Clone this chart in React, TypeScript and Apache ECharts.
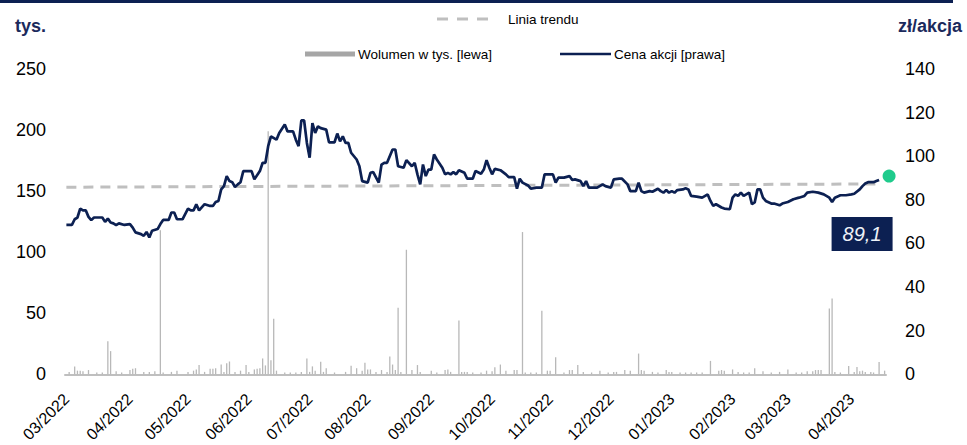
import React, { useEffect, useRef } from "react";
import * as echarts from "echarts";

const NAVY = "#0c2052";
const FONT = "'Liberation Sans', Arial, Helvetica, sans-serif";

// trading days (categories)
const startDate = "2022-03-01";
const endDate = "2023-04-19";
const dates: string[] = [];
{
  const d = new Date(startDate + "T00:00:00Z");
  const end = new Date(endDate + "T00:00:00Z");
  while (d <= end) {
    const wd = d.getUTCDay();
    if (wd !== 0 && wd !== 6) dates.push(d.toISOString().slice(0, 10));
    d.setUTCDate(d.getUTCDate() + 1);
  }
}

// Share price [day index, zł]
const price: [number, number][] = [
  [0, 68.5], [2, 68.5], [3, 71.1], [4, 71.9], [5, 76.0], [6, 75.2], [7, 75.2], [8, 72.2], [9, 70.7], [10, 71.9],
  [13, 71.9], [14, 69.9], [15, 71.4], [16, 69.6], [17, 69.2], [18, 68.4], [19, 69.2], [21, 68.5], [23, 68.9], [24, 67.3],
  [25, 65.1], [27, 64.3], [28, 63.5], [29, 65.3], [30, 62.8], [31, 65.8], [33, 66.6], [34, 68.9], [35, 70.8], [37, 70.8],
  [38, 74.2], [39, 74.2], [40, 71.1], [42, 71.1], [44, 76.0], [45, 75.2], [46, 75.2], [47, 78.0], [48, 75.2], [50, 78.0],
  [52, 77.2], [53, 77.2], [54, 79.0], [55, 79.5], [56, 84.8], [57, 86.3], [58, 90.9], [59, 88.6], [60, 88.1], [61, 85.9],
  [62, 87.1], [63, 88.1], [64, 93.2], [67, 93.2], [68, 89.4], [70, 93.2], [71, 97.0], [72, 97.0], [73, 104.6], [74, 109.1],
  [76, 107.6], [77, 110.7], [79, 114.5], [80, 111.4], [82, 111.4], [83, 107.6], [84, 104.6], [85, 116.4], [86, 116.4], [87, 106.1],
  [88, 99.3], [89, 115.2], [90, 110.7], [91, 113.7], [92, 112.9], [94, 112.2], [95, 106.4], [97, 106.4], [98, 110.4], [99, 106.8],
  [100, 109.1], [101, 106.1], [102, 106.1], [103, 101.6], [105, 98.5], [106, 95.4], [107, 88.6], [109, 87.9], [110, 92.4], [111, 92.7],
  [113, 87.9], [114, 96.2], [115, 97.0], [116, 97.0], [118, 103.1], [119, 103.1], [120, 95.4], [122, 94.7], [123, 98.2], [125, 95.4],
  [126, 97.0], [127, 91.7], [128, 87.1], [129, 96.2], [130, 90.9], [131, 93.9], [132, 93.9], [133, 100.8], [134, 98.5], [136, 94.7],
  [137, 91.7], [138, 92.4], [139, 91.7], [140, 92.7], [141, 91.7], [142, 93.6], [144, 92.4], [145, 89.7], [147, 89.7], [148, 93.2],
  [150, 92.0], [151, 93.9], [152, 98.2], [153, 94.7], [154, 91.7], [155, 94.2], [157, 93.6], [159, 91.7], [160, 90.4], [162, 90.4],
  [163, 85.1], [164, 89.7], [165, 87.9], [167, 86.6], [168, 85.1], [170, 85.6], [172, 85.6], [173, 91.7], [176, 91.7], [177, 87.9],
  [178, 90.2], [180, 90.2], [182, 90.9], [183, 89.1], [184, 89.4], [186, 88.6], [187, 86.3], [188, 88.6], [189, 85.6], [192, 85.6],
  [194, 87.1], [195, 86.3], [197, 85.6], [198, 89.4], [200, 89.7], [201, 89.7], [203, 87.1], [204, 84.0], [206, 84.0], [207, 87.9],
  [208, 84.0], [209, 83.3], [211, 84.0], [212, 83.7], [214, 85.1], [215, 84.0], [216, 83.3], [217, 84.5], [218, 83.3], [219, 84.0],
  [220, 83.3], [221, 84.5], [223, 84.8], [224, 85.3], [225, 84.8], [226, 81.8], [228, 81.5], [230, 81.0], [232, 82.5], [233, 79.5],
  [234, 77.2], [235, 78.0], [237, 76.5], [238, 76.0], [240, 75.7], [241, 81.0], [242, 82.5], [243, 81.8], [244, 83.3], [245, 81.8],
  [247, 83.3], [248, 78.0], [249, 78.8], [250, 84.8], [251, 84.8], [252, 81.0], [253, 79.5], [255, 78.3], [256, 78.3], [258, 77.5],
  [259, 78.3], [261, 79.0], [263, 80.3], [265, 81.0], [267, 81.8], [268, 83.3], [270, 83.7], [272, 83.3], [274, 82.5], [276, 81.0],
  [277, 79.0], [278, 81.0], [280, 82.1], [282, 82.1], [284, 82.5], [285, 82.8], [287, 84.8], [288, 86.3], [289, 87.5], [290, 88.1],
  [292, 88.1], [293, 88.6], [294, 89.1],
];

// Volume, thousands [day index, tys.]
const volume: [number, number][] = [
  [1, 2], [3, 6.5], [4, 3], [5, 3], [6, 2.5], [8, 3.5], [11, 1.5], [13, 1.5], [15, 27], [16, 19],
  [18, 2.5], [20, 1.5], [23, 3.5], [24, 4.5], [25, 5], [28, 2], [30, 2], [32, 2.5], [34, 118], [35, 1.5],
  [38, 2], [40, 3], [44, 2], [46, 3], [47, 4], [48, 7.6], [50, 2], [52, 4.5], [53, 4.5], [54, 5],
  [56, 8], [57, 2], [58, 9], [59, 10.5], [61, 2], [63, 3], [65, 7.6], [66, 2], [68, 4], [69, 4.5],
  [70, 5], [71, 13], [72, 7.3], [73, 199], [74, 11.6], [75, 45.5], [76, 3], [79, 1.5], [81, 1.5], [83, 1.5],
  [85, 2], [87, 13], [88, 2], [89, 6.5], [90, 3], [92, 10.3], [93, 2], [94, 5], [97, 1.5], [101, 2],
  [103, 7], [105, 5], [107, 3], [108, 9.5], [109, 4], [110, 4], [112, 2], [114, 3.5], [116, 2], [117, 14.6],
  [118, 8], [119, 3.5], [120, 54.5], [121, 2], [123, 102], [125, 3.5], [127, 7.6], [128, 2], [132, 3], [134, 1.5],
  [137, 3.5], [138, 4], [139, 2], [142, 44], [143, 2], [144, 2], [145, 2], [147, 1.5], [150, 1.5], [152, 3],
  [154, 2.5], [155, 5.7], [157, 8], [159, 3], [162, 3.5], [163, 3.5], [165, 116.5], [166, 1.5], [168, 1.5], [170, 1.5],
  [172, 52], [174, 3], [175, 3], [177, 14], [180, 1.5], [182, 3.5], [183, 3.5], [185, 7.6], [187, 2], [190, 1.5],
  [193, 3], [196, 1.5], [198, 2], [199, 2], [202, 3.5], [204, 3], [207, 17], [208, 3.5], [209, 3], [212, 2],
  [214, 1.5], [217, 3.5], [218, 2], [219, 2], [222, 1.5], [224, 1.5], [226, 1.5], [228, 1.5], [230, 1.5], [233, 11],
  [236, 3], [237, 3.5], [238, 3], [241, 4], [243, 2], [245, 1.5], [247, 1.5], [249, 5], [252, 2.5], [255, 1.5],
  [258, 2], [261, 4], [264, 1.5], [266, 1.5], [268, 2.5], [270, 2.5], [271, 3.5], [272, 3.5], [273, 3.5], [276, 54],
  [277, 62], [278, 2], [280, 1.5], [283, 6.8], [285, 2], [286, 6], [287, 2.5], [288, 3], [289, 2], [291, 2],
  [292, 1.5], [294, 10], [296, 3],
];

// Trend line end points [day index, zł]
const trend: [number, number][] = [
  [0, 85.8],
  [294, 87.3],
];

const leftTicks = { min: 0, max: 250, interval: 50 };
const rightTicks = { min: 0, max: 140, interval: 20 };

const SERIES_VOL = "Wolumen w tys. [lewa]";
const SERIES_PRICE = "Cena akcji [prawa]";
const SERIES_TREND = "Linia trendu";

const DASH_ICON = "path://M0,0h11v3h-11z M20,0h11v3h-11z M40,0h11v3h-11z";

export default function App() {
  const ref = useRef<HTMLDivElement>(null);
  useEffect(() => {
    document.body.style.margin = "0";
    if (!ref.current) return;
    const chart = echarts.init(ref.current, undefined, { renderer: "svg" });
    const last = price[price.length - 1];
    const monthStart = (i: number) =>
      i === 0 || dates[i].slice(0, 7) !== dates[i - 1].slice(0, 7);
    const legendText = { fontSize: 13.5, color: "#000", fontFamily: FONT };

    chart.setOption({
      animation: false,
      textStyle: { fontFamily: FONT },
      grid: { left: 65, right: 81, top: 69, bottom: 69, containLabel: false },
      legend: [
        {
          data: [{ name: SERIES_TREND, icon: DASH_ICON, itemStyle: { color: "#bfbfbf" } }],
          left: 437,
          top: 12,
          padding: 0,
          itemWidth: 51,
          itemHeight: 3,
          selectedMode: false,
          textStyle: { ...legendText, padding: [0, 0, 0, 15] },
        },
        {
          data: [{ name: SERIES_VOL, icon: "rect", itemStyle: { color: "#a6a6a6" } }],
          left: 305,
          top: 47,
          padding: 0,
          itemWidth: 50,
          itemHeight: 5,
          selectedMode: false,
          textStyle: { ...legendText, padding: [0, 0, 0, -2] },
        },
        {
          data: [{ name: SERIES_PRICE, icon: "rect", itemStyle: { color: NAVY } }],
          left: 560,
          top: 47,
          padding: 0,
          itemWidth: 51,
          itemHeight: 2.5,
          selectedMode: false,
          textStyle: { ...legendText, padding: [0, 0, 0, -2] },
        },
      ],
      xAxis: {
        type: "category",
        data: dates,
        boundaryGap: true,
        axisLine: { lineStyle: { color: "#bfbfbf", width: 2 } },
        axisTick: { show: false },
        splitLine: { show: false },
        axisLabel: {
          rotate: 45,
          interval: (i: number) => monthStart(i),
          formatter: (v: string) => v.slice(5, 7) + "/" + v.slice(0, 4),
          fontSize: 16,
          color: "#000",
          margin: 22,
          fontFamily: FONT,
        },
      },
      yAxis: [
        {
          type: "value",
          position: "left",
          ...leftTicks,
          axisLine: { show: false },
          axisTick: { show: false },
          splitLine: { show: false },
          axisLabel: { fontSize: 18, color: "#000", margin: 19, fontFamily: FONT },
        },
        {
          type: "value",
          position: "right",
          ...rightTicks,
          axisLine: { show: false },
          axisTick: { show: false },
          splitLine: { show: false },
          axisLabel: { fontSize: 18, color: "#000", margin: 19, fontFamily: FONT },
        },
      ],
      series: [
        {
          name: SERIES_VOL,
          type: "bar",
          yAxisIndex: 0,
          data: volume,
          barWidth: 1.3,
          itemStyle: { color: "#b8b8b8" },
          z: 1,
        },
        {
          name: SERIES_TREND,
          type: "line",
          yAxisIndex: 1,
          data: trend,
          symbol: "none",
          lineStyle: { color: "#bfbfbf", width: 3, type: [10, 7] },
          itemStyle: { color: "#bfbfbf" },
          z: 2,
        },
        {
          name: SERIES_PRICE,
          type: "line",
          yAxisIndex: 1,
          data: price,
          symbol: "none",
          lineStyle: { color: NAVY, width: 2.7 },
          itemStyle: { color: NAVY },
          z: 3,
          markPoint: {
            silent: true,
            animation: false,
            data: [
              {
                coord: last,
                symbol: "circle",
                symbolSize: 13,
                symbolOffset: [10, -4],
                itemStyle: { color: "#1fcb8c" },
                label: { show: false },
              },
              {
                coord: last,
                symbol: "rect",
                symbolSize: [61, 34],
                symbolOffset: [-17, 54],
                itemStyle: { color: NAVY },
                label: {
                  show: true,
                  position: "inside",
                  formatter: () => String(last[1]).replace(".", ","),
                  color: "#eef2f8",
                  fontStyle: "italic",
                  fontSize: 20,
                  fontFamily: FONT,
                },
              },
            ],
          },
        },
      ],
      graphic: [
        { type: "rect", left: 0, top: 0, shape: { width: 953, height: 3 }, style: { fill: NAVY } },
        {
          type: "text",
          left: 15,
          top: 17,
          style: { text: "tys.", font: `bold 18px ${FONT}`, fill: "#1b2a5c" },
        },
        {
          type: "text",
          left: 898,
          top: 17,
          style: { text: "zł/akcja", font: `bold 18px ${FONT}`, fill: "#1b2a5c" },
        },
      ],
    });
    return () => chart.dispose();
  }, []);
  return <div ref={ref} style={{ width: 967, height: 445 }} />;
}
